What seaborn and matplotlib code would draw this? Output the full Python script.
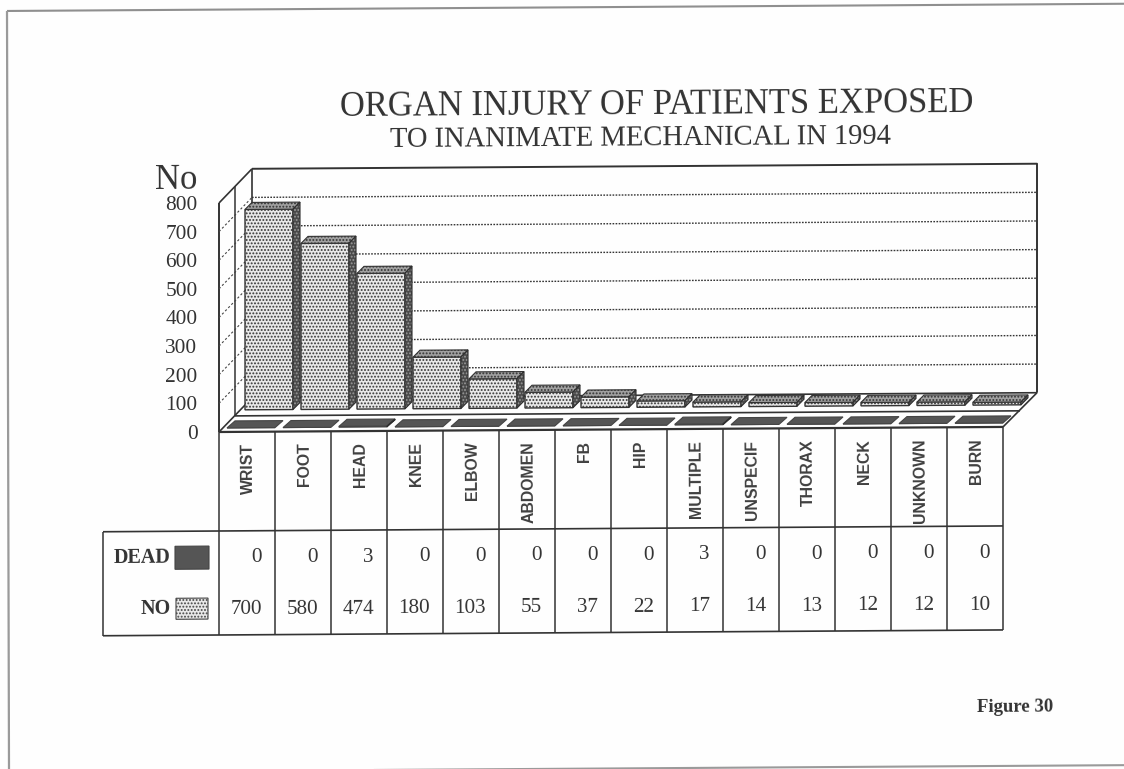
import matplotlib
matplotlib.use("Agg")
import matplotlib.pyplot as plt
import pandas as pd
import seaborn as sns
from matplotlib.patches import Polygon, Rectangle
from matplotlib.transforms import Affine2D

categories = ["WRIST", "FOOT", "HEAD", "KNEE", "ELBOW", "ABDOMEN", "FB", "HIP",
              "MULTIPLE", "UNSPECIF", "THORAX", "NECK", "UNKNOWN", "BURN"]
no_values = [700, 580, 474, 180, 103, 55, 37, 22, 17, 14, 13, 12, 12, 10]
dead_values = [0, 0, 3, 0, 0, 0, 0, 0, 3, 0, 0, 0, 0, 0]
y_ticks = [0, 100, 200, 300, 400, 500, 600, 700, 800]
title_main = "ORGAN INJURY OF PATIENTS EXPOSED"
title_sub = "TO INANIMATE MECHANICAL IN 1994"

W, H = 1124, 769
SKEW = 0.37
INK = "#333333"
SERIF = "Liberation Serif"
SANS = "Liberation Sans"
PX = 229 / 800
DOTS = "....."
BAR_FC = "#e8e8e8"

sns.set_theme(style="white")
plt.rcParams["hatch.linewidth"] = 0.9
df = pd.DataFrame({"organ": categories, "no": no_values, "dead": dead_values})
fig = plt.figure(figsize=(W / 100, H / 100), dpi=100, facecolor="#fefefe")


def px_axes(left, right, top, bottom, **kw):
    return fig.add_axes([left / W, 1 - bottom / H, (right - left) / W, (bottom - top) / H], **kw)


page = px_axes(0, W, 0, H, zorder=0)
page.set_xlim(0, W)
page.set_ylim(H, 0)
page.axis("off")


def ln(x, y, c=INK, lw=1.3, ls="-", z=2):
    page.plot(x, y, color=c, lw=lw, ls=ls, zorder=z, solid_capstyle="butt", clip_on=False)


# page frame
ln([7, W], [9.6, 9.6], "#8f8f8f", 1.5)
ln([7, 9], [9.6, H], "#9a9a9a", 1.6)
ln([7, W], [771, 771], "#9a9a9a", 1.5)

# walls and floor
ln([252, 1037, 1037], [169, 169, 398], lw=1.4)
ln([252, 252], [169, 398], lw=1.2)
ln([219, 219], [203, 432], lw=1.4)
ln([219, 252], [203, 169], lw=1.2)
ln([235, 235], [186, 416], lw=1.1)
ln([252, 1037], [398, 398], lw=1.2)
ln([219, 1003], [432, 432], lw=1.6)
ln([235, 1020], [416, 416], lw=1.2)
ln([219, 252], [432, 398], lw=1.2)
ln([1003, 1037], [432, 398], lw=1.2)
for t in y_ticks[1:-1]:
    d = t * PX
    ln([252, 1037], [398 - d, 398 - d], "#333333", 1.0, (0, (1.2, 1.0)))
    ln([219, 252], [432 - d, 398 - d], "#444444", 0.8, (0, (2, 2)))

# table
col_edges = [219 + 56 * i for i in range(len(categories) + 1)]
for x in col_edges:
    ln([x, x], [432, 635], lw=1.1)
ln([103, 1003], [531, 531], lw=1.2)
ln([103, 1003], [635, 635], lw=1.2)
ln([103, 103], [531, 635], lw=1.1)
for i, name in enumerate(categories):
    cx = col_edges[i] + 29.5
    page.text(cx, 443, name, rotation=90, ha="center", va="top", rotation_mode="default",
              family=SANS, weight="bold", fontsize=11.4, color="#404040")
    right = col_edges[i + 1] - 13
    page.text(right, 558, str(dead_values[i]), ha="right", va="center", family=SERIF,
              fontsize=15.2, color=INK)
    page.text(right, 610, str(no_values[i]), ha="right", va="center", family=SERIF,
              fontsize=15.2, color=INK)

# legend cells
page.text(171, 558, "DEAD", ha="right", va="center", family=SERIF, weight="bold",
          fontsize=14.5, color=INK)
page.text(171, 609, "NO", ha="right", va="center", family=SERIF, weight="bold",
          fontsize=14.5, color=INK)
page.add_patch(Rectangle((175, 546), 34, 23, fc="#555555", ec="#444444", lw=0.8))
page.add_patch(Rectangle((176, 598), 32, 21, fc=BAR_FC, ec="#444444", lw=0.8, hatch=DOTS))

# titles
page.text(657, 108, title_main, ha="center", va="center", family=SERIF, fontsize=24.9, color=INK)
page.text(640, 141, title_sub, ha="center", va="center", family=SERIF, fontsize=20.6, color=INK)
page.text(176, 180, "No", ha="center", va="center", family=SERIF, fontsize=25, color=INK)
page.text(1015, 712, "Figure 30", ha="center", va="center", family=SERIF, weight="bold",
          fontsize=13.5, color=INK)

# value axis on the front wall
wall = px_axes(219, 1003, 203, 432, zorder=1, facecolor="none")
wall.set_ylim(0, 800)
wall.set_xticks([])
wall.set_yticks(y_ticks)
wall.tick_params(axis="y", length=0, pad=15.5)
for lab in wall.get_yticklabels():
    lab.set_family(SERIF)
    lab.set_fontsize(15.4)
    lab.set_color(INK)
sns.despine(ax=wall, left=True, bottom=True)

# series bars
ax_no = px_axes(241, 1025, 181, 410, zorder=3, facecolor="none")
sns.barplot(data=df, x="organ", y="no", ax=ax_no, color=BAR_FC, width=48 / 56,
            saturation=1, edgecolor=INK, linewidth=1.0, errorbar=None)
ax_dead = px_axes(223, 1007, 199, 428, zorder=2, facecolor="none")
sns.barplot(data=df, x="organ", y="dead", ax=ax_dead, color="#555555", width=48 / 56,
            saturation=1, edgecolor="#444444", linewidth=0.8, errorbar=None)

for ax, side_fc, top_fc, dotted, dx_px, dy_px in (
    (ax_no, "#4a4a4a", "#a0a0a0", True, 7, 7),
    (ax_dead, "#555555", "#555555", False, 8, 7),
):
    ax.set_xlim(-0.5, len(categories) - 0.5)
    ax.set_ylim(0, 800)
    ax.axis("off")
    dx = dx_px / 56
    dy = dy_px / PX
    for bar in list(ax.patches):
        x, w, h = bar.get_x(), bar.get_width(), bar.get_height()
        if dotted:
            bar.set_hatch(DOTS)
        top_pts = [(x, h), (x + w, h), (x + w + dx, h + dy), (x + dx, h + dy)]
        ax.add_patch(Polygon(top_pts, closed=True, fc=top_fc, ec=INK if dotted else "#444444",
                             lw=0.8, clip_on=False, hatch=DOTS if dotted else None))
        if h > 0:
            side_pts = [(x + w, 0), (x + w + dx, dy), (x + w + dx, h + dy), (x + w, h)]
            if dotted:
                ax.add_patch(Polygon(side_pts, closed=True, fc=side_fc, ec="#9a9a9a", lw=0,
                                     clip_on=False, hatch=DOTS))
            ax.add_patch(Polygon(side_pts, closed=True, fc="none" if dotted else side_fc,
                                 ec="#2e2e2e", lw=0.8, clip_on=False))

# the scanned page is slightly skewed: apply it to everything but the tick labels
cx, cy = 219, H - 432
skew = Affine2D().translate(-cx, -cy).skew_deg(0, SKEW).translate(cx, cy)
for ax in (page, ax_no, ax_dead):
    for art in ax.patches:
        art.set_transform(art.get_data_transform() + skew)
        art.set_clip_on(False)
    for art in ax.lines:
        art.set_transform(art.get_transform() + skew)
        art.set_clip_on(False)
    for txt in ax.texts:
        txt.set_transform(txt.get_transform() + skew)
        txt.set_rotation(txt.get_rotation() + SKEW)

fig.savefig("out.png", dpi=100, facecolor=fig.get_facecolor())
